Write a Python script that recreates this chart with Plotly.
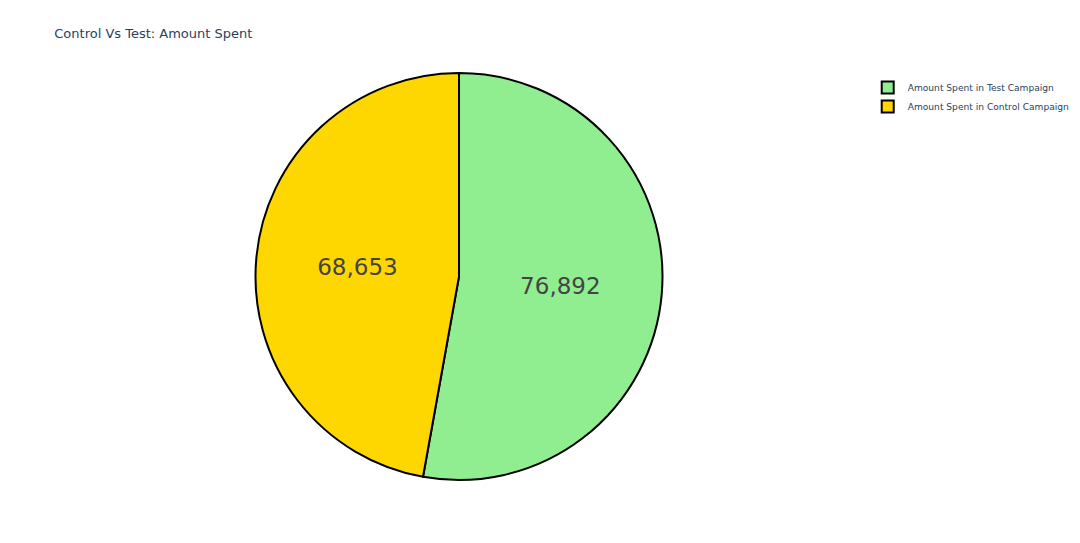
import plotly.graph_objects as go

labels = ["Amount Spent in Test Campaign", "Amount Spent in Control Campaign"]
values = [76892, 68653]
colors = ["lightgreen", "gold"]

fig = go.Figure()
fig.add_trace(go.Pie(
    labels=labels,
    values=values,
    textinfo="value",
    textfont=dict(size=23, family="DejaVu Sans"),
    marker=dict(colors=colors, line=dict(color="black", width=2)),
))
fig.update_layout(
    font=dict(family="DejaVu Sans"),
    title=dict(text="Control Vs Test: Amount Spent", font=dict(size=13),
               x=0.0435, y=0.952, yanchor="middle"),
    legend=dict(font=dict(size=9.1), xref="container", x=0.808, xanchor="left",
                y=1, yanchor="top"),
    margin=dict(l=80, r=242, t=65, b=55),
    paper_bgcolor="white",
)
fig.write_html("out.html")
